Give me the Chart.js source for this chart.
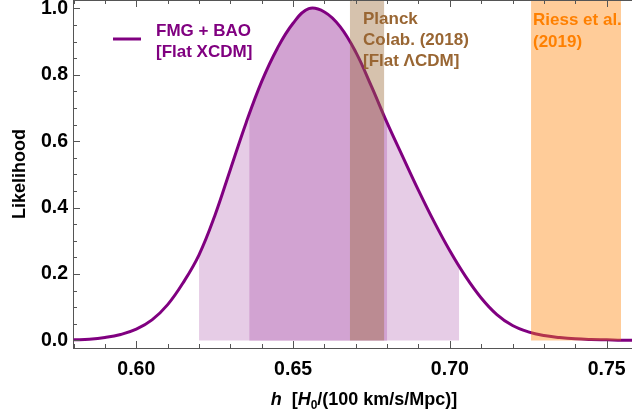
<!DOCTYPE html>
<html>
<head>
<meta charset="utf-8">
<script src="https://cdn.jsdelivr.net/npm/chart.js@4.4.1/dist/chart.umd.min.js"></script>
<style>
  html, body { margin: 0; padding: 0; background: #fff; }
  canvas { display: block; }
</style>
</head>
<body>
<canvas id="hChart" width="632" height="416"></canvas>
<script>
// h values and likelihood
var hValues = [0.580, 0.585, 0.590, 0.595, 0.600, 0.605, 0.610, 0.615, 0.620, 0.625,
               0.630, 0.635, 0.640, 0.645, 0.650, 0.655, 0.660, 0.665, 0.670,
               0.675, 0.680, 0.685, 0.690, 0.695, 0.700, 0.705, 0.710, 0.715, 0.720,
               0.725, 0.730, 0.735, 0.740, 0.745, 0.750, 0.755, 0.760];
var likelihood = [0.002, 0.004, 0.009, 0.018, 0.034, 0.062, 0.108, 0.175, 0.258, 0.375,
                  0.515, 0.655, 0.780, 0.880, 0.955, 0.999, 0.989, 0.945, 0.868,
                  0.765, 0.655, 0.553, 0.452, 0.357, 0.270, 0.193, 0.128, 0.078, 0.045,
                  0.026, 0.015, 0.009, 0.005, 0.003, 0.002, 0.001, 0.001];

// confidence regions of the FMG + BAO curve, and the curve height at their edges
var twoSigma = [0.620, 0.703];
var twoSigmaEdge = [0.258, 0.223];
var oneSigma = [0.636, 0.680];
var oneSigmaEdge = [0.680, 0.655];

// external measurements
var planckBand = [0.6681, 0.6791];
var riessBand = [0.7259, 0.7546];

var xTicks = [0.60, 0.65, 0.70, 0.75];
var xMinorTicks = [0.58, 0.59, 0.60, 0.61, 0.62, 0.63, 0.64, 0.65, 0.66, 0.67, 0.68, 0.69, 0.70, 0.71, 0.72, 0.73, 0.74, 0.75];
var yTicks = [0.0, 0.2, 0.4, 0.6, 0.8, 1.0];
var yMinorTicks = [0.05, 0.1, 0.15, 0.25, 0.3, 0.35, 0.45, 0.5, 0.55, 0.65, 0.7, 0.75, 0.85, 0.9, 0.95];

var xMin = 0.5798, xMax = 0.7581;
var yMin = -0.0226, yMax = 1.025;

var purple = 'rgb(128,0,128)';
var brown = 'rgb(153,102,51)';
var orange = 'rgb(255,128,0)';
var font = '"Liberation Sans", Arial, sans-serif';

function curvePoints() {
    return hValues.map(function (h, i) { return {x: h, y: likelihood[i]}; });
}

function regionPoints(range, edge) {
    var pts = [{x: range[0], y: edge[0]}];
    hValues.forEach(function (h, i) {
        if (h > range[0] && h < range[1]) pts.push({x: h, y: likelihood[i]});
    });
    pts.push({x: range[1], y: edge[1]});
    return pts;
}

function bandPoints(range) {
    return [{x: range[0], y: yMax}, {x: range[1], y: yMax}];
}

var decorations = {
    id: 'decorations',
    afterDraw: function (chart) {
        var ctx = chart.ctx;
        var xs = chart.scales.x, ys = chart.scales.y;
        var area = chart.chartArea;
        ctx.save();
        // frame on top + tick marks pointing inward
        ctx.strokeStyle = '#555';
        ctx.lineWidth = 1;
        ctx.beginPath();
        ctx.moveTo(area.left, area.top + 0.5);
        ctx.lineTo(area.right, area.top + 0.5);
        xMinorTicks.forEach(function (v) {
            var px = Math.round(xs.getPixelForValue(v)) + 0.5;
            var len = xTicks.some(function (t) { return Math.abs(t - v) < 1e-9; }) ? 7 : 4;
            ctx.moveTo(px, area.bottom);
            ctx.lineTo(px, area.bottom - len);
            ctx.moveTo(px, area.top);
            ctx.lineTo(px, area.top + len);
        });
        yTicks.concat(yMinorTicks).forEach(function (v, i) {
            var py = Math.round(ys.getPixelForValue(v)) + 0.5;
            var len = i < yTicks.length ? 7 : 4;
            ctx.moveTo(area.left, py);
            ctx.lineTo(area.left + len, py);
        });
        ctx.stroke();

        // legend
        ctx.strokeStyle = purple;
        ctx.lineWidth = 3;
        ctx.beginPath();
        ctx.moveTo(113, 39);
        ctx.lineTo(141, 39);
        ctx.stroke();
        ctx.textBaseline = 'middle';
        ctx.textAlign = 'left';
        ctx.font = 'bold 17px ' + font;
        ctx.fillStyle = purple;
        ctx.fillText('FMG + BAO', 156, 31);
        ctx.fillText('[Flat XCDM]', 156, 52);

        ctx.fillStyle = brown;
        ctx.fillText('Planck', 363, 19);
        ctx.fillText('Colab. (2018)', 363, 40);
        ctx.fillText('[Flat \u039BCDM]', 363, 61);

        ctx.fillStyle = orange;
        ctx.fillText('Riess et al.', 533, 20);
        ctx.fillText('(2019)', 533, 42);

        // x axis title with italic symbols and subscript
        var parts = [
            {t: 'h', f: 'italic bold 18px ', dy: 0},
            {t: '  [', f: 'bold 18px ', dy: 0},
            {t: 'H', f: 'italic bold 18px ', dy: 0},
            {t: '0', f: 'bold 12px ', dy: 4},
            {t: '/(100 km/s/Mpc)]', f: 'bold 18px ', dy: 0}
        ];
        var total = 0;
        parts.forEach(function (p) { ctx.font = p.f + font; p.w = ctx.measureText(p.t).width; total += p.w; });
        var tx = 364 - total / 2;
        ctx.fillStyle = '#000';
        ctx.textBaseline = 'alphabetic';
        parts.forEach(function (p) {
            ctx.font = p.f + font;
            ctx.fillText(p.t, tx, 405 + p.dy);
            tx += p.w;
        });
        ctx.restore();
    }
};

new Chart('hChart', {
    type: 'line',
    data: {
        datasets: [
            {
                data: bandPoints(riessBand),
                borderWidth: 0,
                pointRadius: 0,
                backgroundColor: 'rgba(255,128,0,0.4)',
                fill: 'origin'
            },
            {
                data: bandPoints(planckBand),
                borderWidth: 0,
                pointRadius: 0,
                backgroundColor: 'rgba(153,102,51,0.4)',
                fill: 'origin'
            },
            {
                data: curvePoints(),
                borderColor: purple,
                borderWidth: 3,
                pointRadius: 0,
                tension: 0.4,
                fill: false
            },
            {
                data: regionPoints(oneSigma, oneSigmaEdge),
                borderWidth: 0,
                pointRadius: 0,
                tension: 0.4,
                backgroundColor: 'rgb(210,163,210)',
                fill: 'origin'
            },
            {
                data: regionPoints(twoSigma, twoSigmaEdge),
                borderWidth: 0,
                pointRadius: 0,
                tension: 0.4,
                backgroundColor: 'rgb(230,204,230)',
                fill: 'origin'
            }
        ]
    },
    options: {
        responsive: false,
        animation: false,
        devicePixelRatio: 1,
        layout: {padding: 0},
        plugins: {legend: {display: false}, tooltip: {enabled: false}},
        scales: {
            x: {
                type: 'linear',
                min: xMin,
                max: xMax,
                grid: {display: false, drawTicks: false},
                border: {display: true, color: '#555', width: 1},
                afterBuildTicks: function (scale) {
                    scale.ticks = xTicks.map(function (v) { return {value: v}; });
                },
                afterFit: function (scale) {
                    scale.height = 68;
                    scale.paddingLeft = 0;
                    scale.paddingRight = 0;
                },
                ticks: {
                    padding: 10,
                    color: '#000',
                    maxRotation: 0,
                    font: {family: font, weight: 'bold', size: 19.5},
                    callback: function (v) { return v.toFixed(2); }
                }
            },
            y: {
                type: 'linear',
                min: yMin,
                max: yMax,
                grid: {display: false, drawTicks: false},
                border: {display: true, color: '#555', width: 1},
                afterBuildTicks: function (scale) {
                    scale.ticks = yTicks.map(function (v) { return {value: v}; });
                },
                afterFit: function (scale) {
                    scale.width = 73;
                    scale.paddingTop = 0;
                    scale.paddingBottom = 0;
                },
                ticks: {
                    padding: 5,
                    color: '#000',
                    font: {family: font, weight: 'bold', size: 19.5},
                    callback: function (v) { return v.toFixed(1); }
                },
                title: {
                    display: true,
                    text: 'Likelihood',
                    color: '#000',
                    padding: {top: 9, bottom: 0},
                    font: {family: font, weight: 'bold', size: 18}
                }
            }
        }
    },
    plugins: [decorations]
});
</script>
</body>
</html>
